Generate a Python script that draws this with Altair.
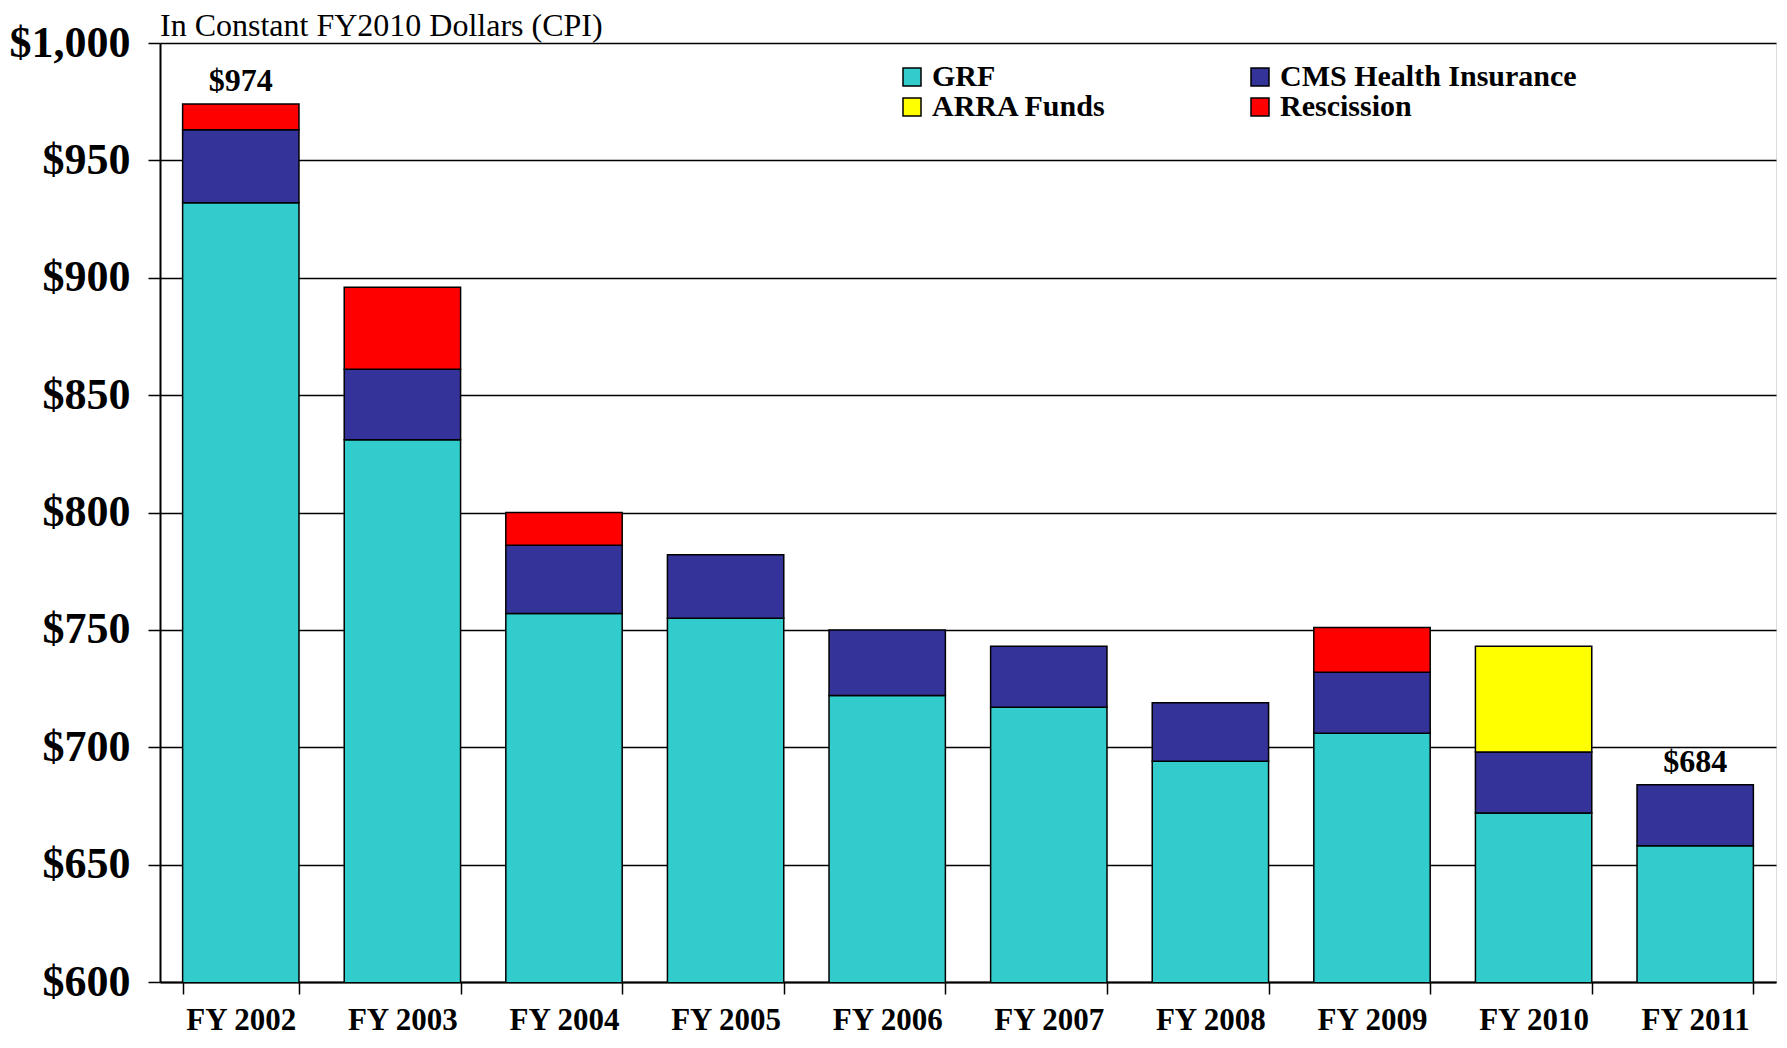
import altair as alt
import pandas as pd

years = ["FY 2002", "FY 2003", "FY 2004", "FY 2005", "FY 2006",
         "FY 2007", "FY 2008", "FY 2009", "FY 2010", "FY 2011"]
grf = [932, 831, 757, 755, 722, 717, 694, 706, 672, 658]
cms = [31, 30, 29, 27, 28, 26, 25, 26, 26, 26]
arra = [0, 0, 0, 0, 0, 0, 0, 0, 45, 0]
resc = [11, 35, 14, 0, 0, 0, 0, 19, 0, 0]

series = ["GRF", "CMS Health Insurance", "ARRA Funds", "Rescission"]
colors = ["#33CCCC", "#333399", "#FFFF00", "#FF0000"]

label_years = ["FY 2002", "FY 2011"]
label_values = [974, 684]
label_texts = ["$974", "$684"]

subtitle = "In Constant FY2010 Dollars (CPI)"
y_ticks = [600, 650, 700, 750, 800, 850, 900, 950, 1000]

rows = []
for i, yr in enumerate(years):
    for k, (name, vals) in enumerate(zip(series, [grf, cms, arra, resc])):
        if vals[i] > 0:
            rows.append({"year": yr, "series": name, "value": vals[i], "ord": k})
df = pd.DataFrame(rows)
lbl_df = pd.DataFrame({"year": label_years, "total": label_values, "text": label_texts})
sub_df = pd.DataFrame({"t": [subtitle]})

FONT = "Liberation Serif"

x_enc = alt.X("year:N", sort=years,
              scale=alt.Scale(paddingInner=0.28, paddingOuter=0.14),
              axis=alt.Axis(title=None, labelAngle=0, labelFont=FONT, labelFontWeight="bold",
                            labelFontSize=31, labelColor="black", tickColor="black",
                            tickSize=12, tickWidth=1.5, tickBand="extent",
                            domainColor="black", domainWidth=2, labelPadding=11))
y_scale = alt.Scale(domain=[600, 1000], zero=False, nice=False)

bars = alt.Chart(df).mark_bar(stroke="black", strokeWidth=1.5, clip=True).encode(
    x=x_enc,
    y=alt.Y("value:Q", stack="zero", scale=y_scale,
            axis=alt.Axis(title=None, values=y_ticks, format="$,.0f", labelFont=FONT,
                          labelFontWeight="bold", labelFontSize=44, labelColor="black",
                          tickColor="black", tickSize=12, tickWidth=1.5, labelPadding=18,
                          domainColor="black", domainWidth=2,
                          grid=True, gridColor="black", gridWidth=1.5, gridOpacity=1)),
    color=alt.Color("series:N", scale=alt.Scale(domain=series, range=colors),
                    legend=alt.Legend(title=None, orient="none", legendX=737, legendY=19,
                                      columns=2, direction="horizontal",
                                      labelFont=FONT, labelFontWeight="bold",
                                      labelFontSize=30, labelColor="black", labelLimit=0,
                                      symbolType="square", symbolSize=324,
                                      symbolStrokeColor="black", symbolStrokeWidth=1.5,
                                      symbolOpacity=1,
                                      columnPadding=138, rowPadding=0, labelOffset=5)),
    order=alt.Order("ord:Q"),
)

labels = alt.Chart(lbl_df).mark_text(font=FONT, fontWeight="bold", fontSize=32,
                                     baseline="alphabetic", dy=-13, color="black").encode(
    x=alt.X("year:N", sort=years),
    y=alt.Y("total:Q", scale=y_scale),
    text="text:N",
)

sub = alt.Chart(sub_df).mark_text(font=FONT, fontSize=32, align="left",
                                  baseline="alphabetic", color="black").encode(
    x=alt.value(0), y=alt.value(-7), text="t:N")

chart = alt.layer(bars, labels, sub).properties(
    width=1616, height=939,
    autosize=alt.AutoSizeParams(type="none"),
    padding={"left": 152, "top": 35, "right": 3, "bottom": 56},
).configure_view(stroke="black", strokeWidth=1.5).configure(background="white")

chart.save("out.html", embed_options={"renderer": "svg", "actions": False})
